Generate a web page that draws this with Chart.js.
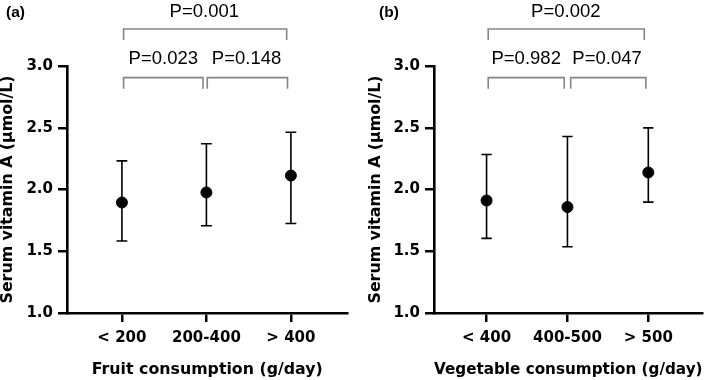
<!DOCTYPE html>
<html><head><meta charset="utf-8">
<script src="https://cdn.jsdelivr.net/npm/chart.js@4/dist/chart.umd.min.js"></script>
<style>
html,body{margin:0;padding:0;background:#fff;}
#wrap{position:relative;width:709px;height:380px;}
.pane{position:absolute;top:0;height:380px;}
#pa{left:0;width:354px;}
#pb{left:354px;width:355px;}
</style></head><body>
<div id="wrap">
<div class="pane" id="pa"><canvas id="ca"></canvas></div>
<div class="pane" id="pb"><canvas id="cb"></canvas></div>
</div>
<script>
// ---- data ----
const fruitCategories = ['< 200', '200-400', '> 400'];
const fruitMean  = [1.895, 1.976, 2.113];
const fruitUpper = [2.232, 2.370, 2.464];
const fruitLower = [1.583, 1.706, 1.725];
const fruitPLabels = ['P=0.023', 'P=0.148', 'P=0.001'];

const vegCategories = ['< 400', '400-500', '> 500'];
const vegMean  = [1.911, 1.858, 2.138];
const vegUpper = [2.283, 2.429, 2.499];
const vegLower = [1.604, 1.536, 1.898];
const vegPLabels = ['P=0.982', 'P=0.047', 'P=0.002'];

const yTicks = [1.0, 1.5, 2.0, 2.5, 3.0];
const yTitle = 'Serum vitamin A (µmol/L)';
const fruitXTitle = 'Fruit consumption (g/day)';
const vegXTitle = 'Vegetable consumption (g/day)';
const panelLetters = ['(a)', '(b)'];

const BOLD = '"DejaVu Sans", sans-serif';
const REG = '"Liberation Sans", Arial, sans-serif';

// ---- helpers ----
const CAP = 0.064;
function errorBarData(mean, lo, hi) {
  const pts = [];
  mean.forEach((m, i) => {
    pts.push({x: i, y: lo[i]}, {x: i, y: hi[i]}, {x: null, y: null});
    pts.push({x: i - CAP, y: hi[i]}, {x: i + CAP, y: hi[i]}, {x: null, y: null});
    pts.push({x: i - CAP, y: lo[i]}, {x: i + CAP, y: lo[i]}, {x: null, y: null});
  });
  return pts;
}
// brackets: [x0, x1, yBar, yLeg]
function bracketData(spans) {
  const pts = [];
  spans.forEach(s => {
    pts.push({x: s[0], y: s[3]}, {x: s[0], y: s[2]}, {x: s[1], y: s[2]}, {x: s[1], y: s[3]}, {x: null, y: null});
  });
  return pts;
}

const pLabelPlugin = {
  id: 'pLabels',
  afterDatasetsDraw(chart, args, opts) {
    const {ctx, scales: {x, y}} = chart;
    ctx.save();
    ctx.fillStyle = '#000';
    ctx.font = '18.5px ' + REG;
    ctx.textAlign = 'center';
    ctx.textBaseline = 'middle';
    opts.items.forEach(it => {
      ctx.fillText(it.text, x.getPixelForValue(it.x), y.getPixelForValue(it.y));
    });
    ctx.font = 'bold 15.5px ' + REG;
    ctx.textAlign = 'left';
    ctx.fillText(opts.letter, opts.letterX, 13);
    ctx.restore();
  }
};

function makeChart(id, cats, mean, lo, hi, pl, xTitle, letter, padLeft, yWidth, letterX, brackets, pPos) {
  return new Chart(document.getElementById(id), {
    type: 'scatter',
    data: {
      datasets: [
        {
          type: 'line', data: bracketData(brackets), borderColor: '#858585', borderWidth: 1.6,
          pointRadius: 0, spanGaps: false, clip: false, tension: 0, fill: false
        },
        {
          type: 'line', data: errorBarData(mean, lo, hi), borderColor: '#000', borderWidth: 1.6,
          pointRadius: 0, spanGaps: false, clip: false, tension: 0, fill: false
        },
        {
          data: mean.map((m, i) => ({x: i, y: m})), backgroundColor: '#000', borderColor: '#000',
          pointRadius: 5.5, pointHoverRadius: 5.5
        }
      ]
    },
    options: {
      responsive: false, animation: false, devicePixelRatio: 1,
      layout: {padding: {top: 66, right: 0, bottom: 0, left: padLeft}},
      plugins: {
        legend: {display: false}, tooltip: {enabled: false},
        pLabels: {
          items: [
            {text: pl[0], x: pPos[0], y: 3.058},
            {text: pl[1], x: pPos[1], y: 3.058},
            {text: pl[2], x: pPos[2], y: 3.44}
          ],
          letter: letter, letterX: letterX
        }
      },
      scales: {
        x: {
          type: 'linear', min: -0.65, max: 2.67,
          afterBuildTicks: s => { s.ticks = cats.map((c, i) => ({value: i})); },
          afterFit: s => { s.height = 67; },
          ticks: {
            callback: (v) => cats[v], color: '#000', padding: 7,
            font: {family: BOLD, size: 15, weight: 'bold'},
            maxRotation: 0, autoSkip: false
          },
          grid: {display: true, drawOnChartArea: false, drawTicks: true, tickLength: 9, color: '#000', lineWidth: 2.5},
          border: {display: true, color: '#000', width: 2.6},
          title: {
            display: true, text: xTitle, color: '#000', padding: {top: 0, bottom: 1},
            font: {family: BOLD, size: 15.8, weight: 'bold', lineHeight: 1.2}
          }
        },
        y: {
          type: 'linear', min: 1.0, max: 3.0,
          afterBuildTicks: s => { s.ticks = yTicks.map(v => ({value: v})); },
          afterFit: s => { s.width = yWidth; },
          ticks: {
            callback: v => v.toFixed(1), color: '#000', padding: 5,
            font: {family: BOLD, size: 15, weight: 'bold'}
          },
          grid: {display: true, drawOnChartArea: false, drawTicks: true, tickLength: 9, color: '#000', lineWidth: 2.5},
          border: {display: true, color: '#000', width: 2.6},
          title: {
            display: true, text: yTitle, color: '#000', padding: {top: 0, bottom: 0},
            font: {family: BOLD, size: 15.8, weight: 'bold', lineHeight: 1.0}
          }
        }
      }
    },
    plugins: [pLabelPlugin]
  });
}

const ca = document.getElementById('ca'); ca.width = 354; ca.height = 380;
const cb = document.getElementById('cb'); cb.width = 355; cb.height = 380;

makeChart('ca', fruitCategories, fruitMean, fruitLower, fruitUpper, fruitPLabels, fruitXTitle, panelLetters[0], 0, 67, 6,
  [[0.02, 0.96, 2.906, 2.815], [1.01, 1.96, 2.906, 2.815], [0.02, 1.95, 3.30, 3.21]],
  [0.49, 1.475, 0.975]);
makeChart('cb', vegCategories, vegMean, vegLower, vegUpper, vegPLabels, vegXTitle, panelLetters[1], 14, 66, 25,
  [[0.02, 0.96, 2.906, 2.815], [1.04, 1.97, 2.906, 2.815], [0.02, 1.95, 3.30, 3.21]],
  [0.49, 1.49, 0.98]);
</script>
</body></html>
